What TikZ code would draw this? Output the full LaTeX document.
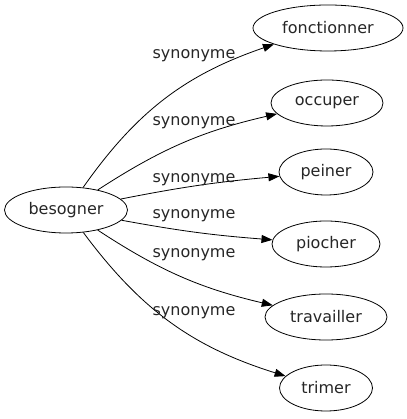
\documentclass[tikz,border=0pt]{standalone}
\usepackage{fontspec}
\setmainfont{DejaVu Sans}
\usepackage{tikz}
\usetikzlibrary{shapes,arrows,arrows.meta}

\begin{document}
\begin{tikzpicture}[x=1pt,y=1pt]
	\tikzstyle{every node}=[font=\fontsize{16}{19}\selectfont, text=black!85]
	\tikzstyle{word}=[draw, ellipse, line width=0.8pt, inner sep=0pt, minimum height=46pt]
	\tikzstyle{syn}=[-{Triangle[length=11pt,width=8pt]}, line width=0.8pt]
	\useasboundingbox (0,0) rectangle (406,419);
	
	\node[word, minimum width=123pt] (besogner) at (66,209) {besogner};
	
	\node[word, minimum width=150pt] (fonctionner) at (328,391) {fonctionner};
	\node[word, minimum width=112pt] (occuper) at (327,316) {occuper};
	\node[word, minimum width=94pt] (peiner) at (326,247) {peiner};
	\node[word, minimum width=108pt] (piocher) at (326,175) {piocher};
	\node[word, minimum width=122pt] (travailler) at (326,102) {travailler};
	\node[word, minimum width=93pt] (trimer) at (326,31) {trimer};
	
	\draw[syn] (besogner) to[bend left=18] (fonctionner);
	\draw[syn] (besogner) to[bend left=10] (occuper);
	\draw[syn] (besogner) to[bend left=3] (peiner);
	\draw[syn] (besogner) to[bend right=3] (piocher);
	\draw[syn] (besogner) to[bend right=10] (travailler);
	\draw[syn] (besogner) to[bend right=18] (trimer);
	
	% edge labels
	\node (l1) at (194,363) {synonyme};
	\node (l2) at (194,296) {synonyme};
	\node (l3) at (194,239) {synonyme};
	\node (l4) at (194,203) {synonyme};
	\node (l5) at (194,164) {synonyme};
	\node (l6) at (194,106) {synonyme};
\end{tikzpicture}
\end{document}
